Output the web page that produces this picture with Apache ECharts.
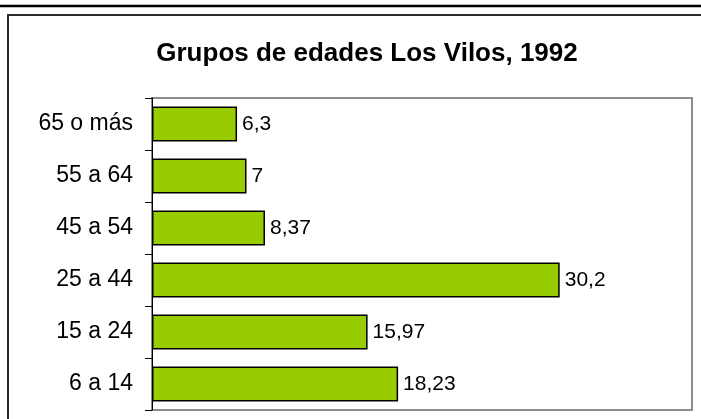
<!DOCTYPE html>
<html>
<head>
<meta charset="utf-8">
<title>Grupos de edades Los Vilos, 1992</title>
<script src="https://cdn.jsdelivr.net/npm/echarts@6/dist/echarts.min.js"></script>
<style>
  html, body { margin: 0; padding: 0; background: #fff; }
  #chart { width: 701px; height: 419px; }
</style>
</head>
<body>
<div id="chart"></div>
<script>
// grupos de edad, de abajo hacia arriba
var categories = ['6 a 14', '15 a 24', '25 a 44', '45 a 54', '55 a 64', '65 o más'];
var values = [18.23, 15.97, 30.2, 8.37, 7, 6.3];
var axisMax = 40;

var chart = echarts.init(document.getElementById('chart'));
var font = 'Liberation Sans, Arial, sans-serif';

var option = {
  backgroundColor: '#fff',
  textStyle: { fontFamily: font },
  title: {
    text: 'Grupos de edades Los Vilos, 1992',
    left: 362,
    top: 36,
    textAlign: 'center',
    textStyle: { fontSize: 26, fontWeight: 'bold', color: '#000', fontFamily: font }
  },
  // marco exterior y linea superior
  graphic: [
    { type: 'line', shape: { x1: 0, y1: 6, x2: 701, y2: 6 }, style: { stroke: '#000', lineWidth: 2.5 } },
    { type: 'rect', shape: { x: 8, y: 15, width: 720, height: 440 }, style: { fill: null, stroke: '#2a2a2a', lineWidth: 2 } }
  ],
  grid: {
    left: 152, right: 9, top: 98, bottom: 9,
    show: true,
    borderColor: '#8c8c8c',
    borderWidth: 2
  },
  xAxis: {
    type: 'value',
    min: 0,
    max: axisMax,
    show: false,
    splitLine: { show: false }
  },
  yAxis: {
    type: 'category',
    data: categories,
    axisLine: { show: true, lineStyle: { color: '#000', width: 1 } },
    axisTick: { show: true, inside: false, length: 7, lineStyle: { color: '#000' } },
    axisLabel: { fontSize: 23, color: '#000', margin: 19, fontFamily: font }
  },
  series: [{
    type: 'bar',
    data: values,
    barCategoryGap: '33%',
    itemStyle: { color: '#99cc00', borderColor: '#000', borderWidth: 1.5 },
    label: {
      show: true,
      position: 'right',
      distance: 5,
      fontSize: 21,
      color: '#000',
      fontFamily: font,
      formatter: function (p) { return String(p.value).replace('.', ','); }
    },
    animation: false
  }],
  animation: false
};

chart.setOption(option);
</script>
</body>
</html>
